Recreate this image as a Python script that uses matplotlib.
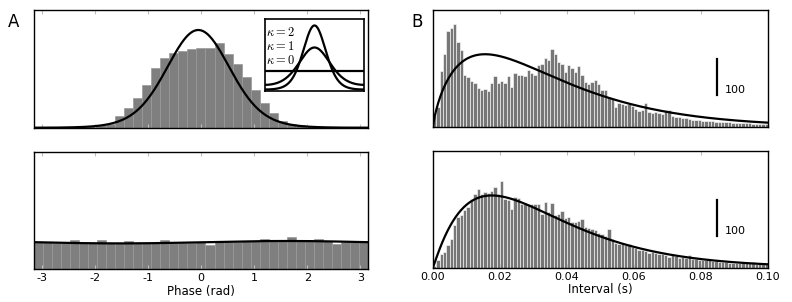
import numpy as np
import matplotlib
matplotlib.use("Agg")
from matplotlib import pyplot as plt

plt.rcParams['axes.unicode_minus'] = False
plt.rcParams['font.family'] = ['DejaVu Sans']

# ---- panel A: phase histograms (37 bins over -pi..pi) ----
phase_top = [0.5, 0.5, 0.8, 1.0, 1.2, 1.5, 2.0, 2.5, 4.0, 12.0,
             19.5, 29.5, 43.0, 59.5, 70.0, 74.5, 77.0, 78.5, 79.5, 80.0,
             84.5, 74.0, 63.5, 51.0, 38.0, 24.5, 14.5, 7.0, 4.0, 2.5,
             1.8, 1.2, 1.0, 0.8, 0.6, 0.5, 0.5]
phase_bottom = [26.8, 26.5, 26.2, 26.3, 29.0, 26.0, 25.8, 29.0, 25.7, 25.6,
                27.7, 25.6, 25.7, 25.8, 29.0, 26.0, 26.2, 26.4, 26.6, 23.7,
                27.0, 27.2, 27.3, 27.5, 27.7, 30.3, 27.9, 28.0, 32.3, 29.3,
                27.8, 30.3, 27.6, 25.3, 27.2, 27.0, 26.8]
# von Mises fits: peak height, kappa, mu
fit_top = (98.0, 2.9, -0.05)
fit_bottom = (28.0, 0.045, 1.6)
inset_kappas = [0, 1, 2]
phase_ticks = [-3, -2, -1, 0, 1, 2, 3]

# ---- panel B: interval histograms (100 bins of 1 ms) ----
isi_top = [30, 55, 157, 205, 270, 278, 290, 239, 216, 146,
           141, 129, 122, 108, 104, 107, 101, 122, 143, 122,
           129, 122, 143, 113, 150, 146, 146, 143, 160, 150,
           146, 174, 176, 193, 188, 218, 204, 183, 176, 155,
           174, 166, 155, 170, 146, 126, 121, 126, 131, 121,
           104, 104, 85, 80, 57, 66, 64, 62, 64, 60,
           50, 45, 48, 66, 43, 38, 41, 38, 36, 48,
           48, 32, 29, 27, 24, 24, 22, 21, 20, 20,
           18, 18, 17, 17, 15, 15, 14, 13, 13, 12,
           11, 11, 10, 10, 10, 9, 9, 8, 8, 7]
isi_bottom = [5, 20, 39, 44, 64, 81, 119, 142, 147, 161,
              170, 193, 207, 219, 205, 212, 209, 214, 226, 207,
              242, 193, 189, 165, 198, 195, 179, 177, 179, 177,
              177, 177, 151, 184, 156, 182, 147, 151, 158, 139,
              142, 128, 128, 130, 136, 114, 111, 109, 105, 98,
              95, 87, 108, 80, 68, 67, 68, 62, 65, 57,
              55, 50, 50, 46, 40, 43, 42, 37, 37, 34,
              29, 34, 31, 27, 29, 27, 34, 25, 25, 22,
              22, 20, 20, 18, 18, 16, 15, 16, 14, 14,
              13, 14, 12, 13, 12, 15, 11, 10, 10, 9]
# gamma fits: peak count, mode (s), shape-1
gfit_top = (204.0, 0.01554, 0.79)
gfit_bottom = (202.0, 0.01754, 1.05)
interval_ticks = [0.0, 0.02, 0.04, 0.06, 0.08, 0.10]
scale_bar = 100


def von_mises(x, peak, kappa, mu):
    return peak * np.exp(kappa * (np.cos(x - mu) - 1))


def gamma_shape(t, peak, mode, a):
    r = t / mode
    return peak * r ** a * np.exp(-a * (r - 1))


def style_axes(ax, ticks):
    for s in ax.spines.values():
        s.set_linewidth(1.0)
    ax.set_xticks(ticks)
    ax.set_yticks([])
    ax.tick_params(axis='x', direction='in', top=True, bottom=True,
                   length=3, color='0.75', labelsize=8, pad=3)


fig = plt.figure(figsize=(7.92, 3.02), dpi=100)

ax_tl = fig.add_axes([0.0429, 0.5762, 0.4217, 0.3907])
ax_bl = fig.add_axes([0.0429, 0.1093, 0.4217, 0.3874])
ax_tr = fig.add_axes([0.5467, 0.5795, 0.4230, 0.3874])
ax_br = fig.add_axes([0.5467, 0.1142, 0.4230, 0.3874])

# phase panels
edges = np.linspace(-np.pi, np.pi, len(phase_top) + 1)
xs = np.linspace(-np.pi, np.pi, 400)
for ax, vals, fit, ymax in [(ax_tl, phase_top, fit_top, 118),
                            (ax_bl, phase_bottom, fit_bottom, 117)]:
    ax.bar(edges[:-1], vals, width=np.diff(edges), align='edge',
           color='#7f7f7f', edgecolor='#9a9a9a', linewidth=0.5)
    ax.plot(xs, von_mises(xs, *fit), color='black', lw=1.6)
    ax.set_xlim(-np.pi, np.pi)
    ax.set_ylim(0, ymax)
    style_axes(ax, phase_ticks)
ax_tl.tick_params(labelbottom=False)
ax_bl.set_xticklabels([str(t) for t in phase_ticks])
ax_bl.set_xlabel('Phase (rad)', fontsize=8.5, labelpad=1)

# inset with von Mises shapes
ax_in = fig.add_axes([0.3346, 0.6997, 0.1250, 0.2374])
for k in inset_kappas:
    ax_in.plot(xs, np.exp(k * np.cos(xs)) / (2 * np.pi * np.i0(k)),
               color='black', lw=1.6)
    y_lab = {2: 0.464, 1: 0.346, 0: 0.235}[k]
    ax_in.text(-3.08, y_lab, r'$\kappa=%d$' % k, fontsize=9,
               math_fontfamily='cm', va='center', ha='left')
ax_in.set_xlim(-np.pi, np.pi)
ax_in.set_ylim(0, 0.567)
ax_in.set_xticks([])
ax_in.set_yticks([])
for s in ax_in.spines.values():
    s.set_linewidth(1.2)

# interval panels
iedges = np.linspace(0, 0.1, len(isi_top) + 1)
ts = np.linspace(0, 0.1, 500)
for ax, vals, fit, bar_y in [(ax_tr, isi_top, gfit_top, 90),
                             (ax_br, isi_bottom, gfit_bottom, 88)]:
    ax.bar(iedges[:-1], vals, width=np.diff(iedges), align='edge',
           color='#777777', edgecolor='white', linewidth=0.4)
    ax.plot(ts, gamma_shape(ts, *fit), color='black', lw=1.6)
    ax.plot([0.0849, 0.0849], [bar_y, bar_y + scale_bar], color='black', lw=1.6)
    ax.text(0.0871, bar_y + 14, str(scale_bar), fontsize=8, va='center', ha='left')
    ax.set_xlim(0, 0.1)
    ax.set_ylim(0, 328)
    style_axes(ax, interval_ticks)
ax_tr.tick_params(labelbottom=False)
ax_br.set_xticklabels(['%.2f' % t for t in interval_ticks])
ax_br.set_xlabel('Interval (s)', fontsize=8.5, labelpad=1)

fig.text(0.010, 0.957, 'A', fontsize=12, va='top', ha='left')
fig.text(0.520, 0.957, 'B', fontsize=12, va='top', ha='left')

fig.savefig('out.png', dpi=100)
plt.close(fig)
